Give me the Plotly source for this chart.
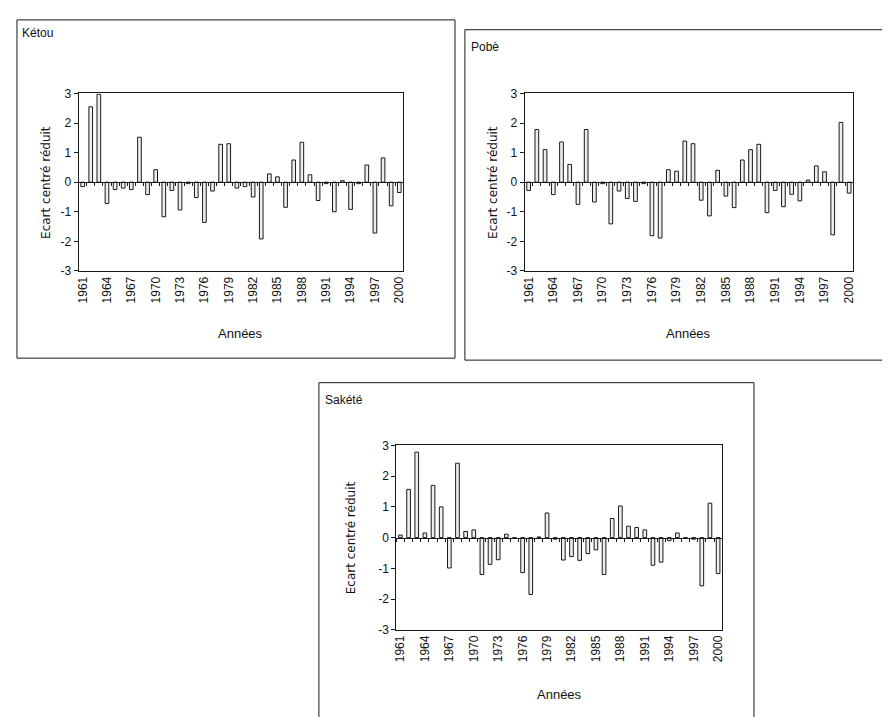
import plotly.graph_objects as go

years = list(range(1961, 2001))
tick_years = [1961, 1964, 1967, 1970, 1973, 1976, 1979, 1982, 1985, 1988, 1991, 1994, 1997, 2000]
y_ticks = [-3, -2, -1, 0, 1, 2, 3]
y_tick_text = ["-3", "-2", "-1", "0", "1", "2", "3"]

ketou = [-0.15, 2.55, 2.97, -0.72, -0.25, -0.2, -0.25, 1.52, -0.42, 0.42,
         -1.17, -0.28, -0.94, -0.05, -0.52, -1.36, -0.3, 1.28, 1.3, -0.2,
         -0.15, -0.5, -1.92, 0.28, 0.18, -0.85, 0.75, 1.35, 0.25, -0.62,
         -0.05, -1.0, 0.05, -0.92, -0.05, 0.58, -1.72, 0.82, -0.8, -0.35]
pobe = [-0.28, 1.78, 1.1, -0.42, 1.36, 0.6, -0.75, 1.78, -0.67, -0.05,
        -1.41, -0.3, -0.55, -0.65, -0.05, -1.81, -1.89, 0.42, 0.37, 1.39,
        1.3, -0.61, -1.14, 0.4, -0.47, -0.86, 0.75, 1.1, 1.28, -1.03,
        -0.28, -0.83, -0.41, -0.63, 0.07, 0.55, 0.35, -1.78, 2.02, -0.37]
sakete = [0.08, 1.57, 2.78, 0.15, 1.7, 1.0, -0.99, 2.42, 0.2, 0.25,
          -1.2, -0.87, -0.72, 0.11, -0.02, -1.14, -1.85, 0.02, 0.8, -0.05,
          -0.73, -0.62, -0.74, -0.52, -0.4, -1.2, 0.62, 1.03, 0.37, 0.33,
          0.25, -0.9, -0.8, -0.1, 0.15, -0.02, -0.05, -1.57, 1.12, -1.17]

stations = ["Kétou", "Pobè", "Sakété"]
series = [ketou, pobe, sakete]

W, H = 890, 717
FONT = "Liberation Sans"
WIDE = "DejaVu Sans"

panels = [
    dict(plot=(68, 395, 80, 261), box=(6, 5, 447, 350), title=(9, 18), ytx=35, xty=325),
    dict(plot=(517, 848, 80, 261), box=(457, 15, 888, 352), title=(461, 33), ytx=485, xty=325),
    dict(plot=(388, 716, 439, 627), box=(310, 375, 748, 730), title=(314, 393), ytx=342, xty=693),
]

def px(x):
    return x / W

def py(y):
    return 1 - y / H

fig = go.Figure()
layout = dict(width=W, height=H, margin=dict(l=0, r=0, t=0, b=0),
              paper_bgcolor="white", plot_bgcolor="white", showlegend=False,
              bargap=0.55, font=dict(family=FONT, color="#111", size=12))
shapes = []
annotations = []

for k, (name, vals, p) in enumerate(zip(stations, series, panels)):
    n = k + 1
    xa = "x" if n == 1 else f"x{n}"
    ya = "y" if n == 1 else f"y{n}"
    fig.add_trace(go.Bar(x=years, y=vals, xaxis=xa, yaxis=ya,
                         marker=dict(color="#eeeeee", line=dict(color="#1a1a1a", width=1))))
    x0, x1, yt, yb = p["plot"]
    xdom = [px(x0), px(x1)]
    ydom = [py(yb), py(yt)]
    layout[f"xaxis{'' if n == 1 else n}"] = dict(
        domain=xdom, anchor=ya, range=[1960.5, 2000.5],
        tickvals=tick_years, ticktext=[str(t) for t in tick_years], tickangle=-90,
        ticks="", showline=True, mirror=True, linecolor="#1a1a1a", linewidth=1,
        showgrid=False, zeroline=False, tickfont=dict(size=12, family=FONT))
    layout[f"yaxis{'' if n == 1 else n}"] = dict(
        domain=ydom, anchor=xa, range=[-3, 3], tickvals=y_ticks, ticktext=y_tick_text,
        ticks="outside", ticklen=4, tickcolor="#1a1a1a",
        showline=True, mirror=True, linecolor="#1a1a1a", linewidth=1,
        showgrid=False, zeroline=False, tickfont=dict(size=12, family=FONT))
    m = n + 3
    layout[f"xaxis{m}"] = dict(
        overlaying=xa, anchor="free", position=(ydom[0] + ydom[1]) / 2,
        range=[1960.5, 2000.5], tickvals=[y + 0.5 for y in [1960] + years],
        showticklabels=False, ticks="outside", ticklen=3, tickcolor="#1a1a1a",
        showline=True, linecolor="#1a1a1a", linewidth=1, showgrid=False, zeroline=False)
    fig.add_trace(go.Scatter(x=[None], y=[None], xaxis=f"x{m}", yaxis=ya,
                             mode="markers", hoverinfo="skip"))

    bx0, by0, bx1, by1 = p["box"]
    shapes.append(dict(type="rect", xref="paper", yref="paper",
                       x0=px(bx0), x1=px(bx1), y0=py(by1), y1=py(by0),
                       line=dict(color="#1a1a1a", width=1)))
    tx, ty = p["title"]
    annotations.append(dict(text=name, x=px(tx), y=py(ty), xref="paper", yref="paper",
                            xanchor="left", yanchor="middle", showarrow=False,
                            font=dict(size=12, family=FONT)))
    annotations.append(dict(text="Ecart centré réduit", x=px(p["ytx"]), y=py((yt + yb) / 2),
                            xref="paper", yref="paper", textangle=-90,
                            xanchor="center", yanchor="middle", showarrow=False,
                            font=dict(size=12, family=WIDE)))
    annotations.append(dict(text="Années", x=px((x0 + x1) / 2), y=py(p["xty"]),
                            xref="paper", yref="paper", xanchor="center", yanchor="middle",
                            showarrow=False, font=dict(size=13, family=FONT)))

layout["shapes"] = shapes
layout["annotations"] = annotations
fig.update_layout(**layout)
fig.write_html("out.html")
